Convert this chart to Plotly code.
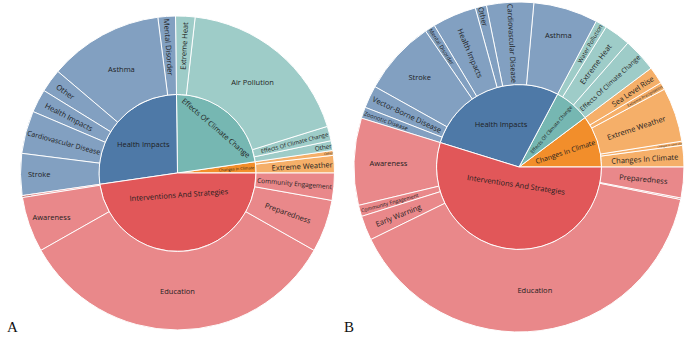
import plotly.graph_objects as go

# ---------------- Data ----------------
top_levels = ["Interventions And Strategies", "Health Impacts",
              "Effects Of Climate Change", "Changes In Climate"]
top_colors = {"Interventions And Strategies": "#E15759",
              "Health Impacts": "#4E79A7",
              "Effects Of Climate Change": "#76B7B2",
              "Changes In Climate": "#F28E2B"}

# Chart A (percent of items), listed clockwise from 3 o'clock
a_interventions = ["Community Engagement", "Preparedness", "Education", "Awareness", "Early Warning"]
a_interventions_vals = [2.8, 5.4, 33.6, 5.7, 0.2]
a_health = ["Stroke", "Cardiovascular Disease", "Health Impacts", "Other", "Asthma", "Mental Disorder"]
a_health_vals = [4.3, 4.4, 2.4, 2.4, 11.8, 1.8]
a_effects = ["Extreme Heat", "Air Pollution", "Effects Of Climate Change", "Other"]
a_effects_vals = [2.0, 18.4, 1.5, 1.0]
a_changes = ["Other", "Extreme Weather"]
a_changes_vals = [0.5, 1.8]

# Chart B (percent of items), listed clockwise from 3 o'clock
b_interventions = ["Preparedness", "Other", "Education", "Early Warning", "Community Engagement", "Awareness"]
b_interventions_vals = [3.0, 0.15, 39.5, 2.4, 1.1, 8.5]
b_health = ["Zoonotic Disease", "Vector-Borne Disease", "Stroke", "Mental Disorder",
            "Health Impacts", "Other", "Cardiovascular Disease", "Asthma"]
b_health_vals = [1.1, 2.2, 7.3, 1.0, 4.3, 1.1, 4.6, 6.3]
b_effects = ["Water Pollution", "Extreme Heat", "Effects Of Climate Change"]
b_effects_vals = [1.1, 2.6, 3.3]
b_changes = ["Sea Level Rise", "Extreme Precipitation", "Extreme Weather",
             "Changes In Land Use", "Changes In Climate"]
b_changes_vals = [1.7, 0.7, 5.3, 0.4, 2.1]


def build(groups):
    # plotly lays sectors counter-clockwise from 3 o'clock, so feed the
    # clockwise lists in reverse order
    ids, labels, parents, values, colors = [], [], [], [], []
    pairs = list(zip(top_levels, groups))[::-1]
    for top, _ in pairs:
        ids.append(top); labels.append(top); parents.append(""); values.append(0)
        colors.append(top_colors[top])
    for top, (names, vals) in pairs:
        for n, v in list(zip(names, vals))[::-1]:
            ids.append(top + "/" + n); labels.append(n); parents.append(top)
            values.append(v); colors.append(top_colors[top])
    return ids, labels, parents, values, colors


def make_trace(groups, dx, dy):
    ids, labels, parents, values, colors = build(groups)
    return go.Sunburst(
        ids=ids, labels=labels, parents=parents, values=values,
        branchvalues="remainder", sort=False,
        marker=dict(colors=colors, line=dict(color="white", width=1)),
        leaf=dict(opacity=0.7),
        textfont=dict(color="#1e1e1e", size=7.5, family="Open Sans"),
        insidetextorientation="auto",
        domain=dict(x=dx, y=dy),
        hoverinfo="label+value",
    )


fig = go.Figure()
fig.add_trace(make_trace([(a_interventions, a_interventions_vals), (a_health, a_health_vals),
                          (a_effects, a_effects_vals), (a_changes, a_changes_vals)],
                         [0.0299, 0.4883], [0.0208, 0.9525]))
fig.add_trace(make_trace([(b_interventions, b_interventions_vals), (b_health, b_health_vals),
                          (b_effects, b_effects_vals), (b_changes, b_changes_vals)],
                         [0.5168, 0.9985], [0.0148, 0.9941]))

for txt, x in [("A", 0.008), ("B", 0.499)]:
    fig.add_annotation(text=txt, x=x, y=0.0, xref="paper", yref="paper",
                       xanchor="left", yanchor="bottom", showarrow=False,
                       font=dict(family="Liberation Serif", size=15, color="#111"))

fig.update_layout(width=685, height=337, margin=dict(l=0, r=0, t=0, b=0),
                  paper_bgcolor="white", showlegend=False)
fig.write_html("out.html", config={"displayModeBar": False},
               post_script="document.body.style.margin='0';document.body.style.overflow='hidden';")
